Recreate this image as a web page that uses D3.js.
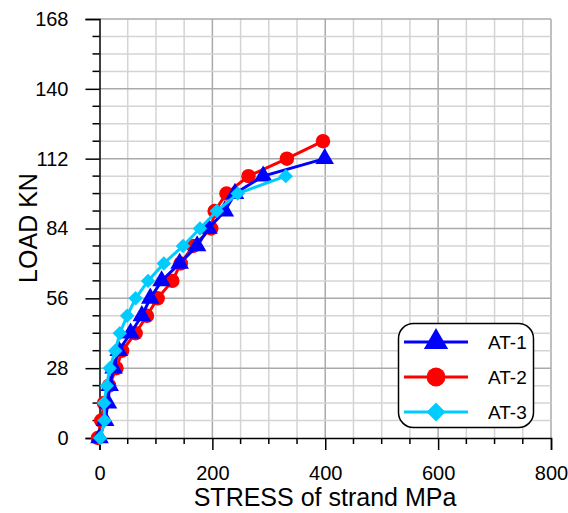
<!DOCTYPE html>
<html>
  <head>
    <meta charset="utf-8">
    <script src="https://cdn.jsdelivr.net/npm/d3@7"></script>
    <style>
      body { margin: 0; background: #fff; }
      text { font-family: Arial, "Liberation Sans", sans-serif; }
    </style>
  </head>
  <body>
    <script type="text/javascript">
      var w = 568;
      var h = 513;

      // dados
      var seriesNames = ["AT-1", "AT-2", "AT-3"];
      var loadAT1 = [0, 7, 14, 21, 28, 35, 42, 49, 56, 63, 70, 77, 84, 91, 98, 105, 112];
      var stressAT1 = [0, 10, 15, 18, 25, 34, 55, 75, 90, 110, 142, 173, 193, 222, 240, 290, 399];
      var loadAT2 = [0, 7, 14, 21, 28, 35, 42, 49, 56, 63, 70, 77, 84, 91, 98, 105, 112, 119];
      var stressAT2 = [-3, 3, 8, 17, 30, 40, 64, 84, 103, 129, 144, 166, 198, 204, 225, 264, 332, 396];
      var loadAT3 = [0, 7, 14, 21, 28, 35, 42, 49, 56, 63, 70, 77, 84, 91, 98, 105];
      var stressAT3 = [1, 9, 8, 13, 18, 28, 36, 49, 64, 86, 114, 148, 178, 208, 245, 330];
      var xTicks = [0, 200, 400, 600, 800];
      var yTicks = [0, 28, 56, 84, 112, 140, 168];

      var colors = ["#0000ff", "#ff0000", "#00ccff"];
      // losango = quadrado girado 45 graus
      var symbols = [d3.symbolTriangle, d3.symbolCircle, d3.symbolSquare];
      var symSizes = [150, 165, 105];
      var symRotate = [0, 0, 45];

      var series = [
        { name: seriesNames[0], x: stressAT1, y: loadAT1 },
        { name: seriesNames[1], x: stressAT2, y: loadAT2 },
        { name: seriesNames[2], x: stressAT3, y: loadAT3 }
      ];

      var pLeft = 99.5, pRight = 551, pTop = 19, pBottom = 438;

      var x = d3.scaleLinear().domain([0, 800]).range([pLeft, pRight]);
      var y = d3.scaleLinear().domain([0, 168]).range([pBottom, pTop]);

      var svg = d3.select("body")
                  .append("svg")
                    .attr("width", w)
                    .attr("height", h);

      // grade
      var grid = svg.append("g");
      grid.selectAll("line.gx")
          .data(d3.range(50, 801, 50))
          .enter()
          .append("line")
            .attr("x1", function(d){ return x(d); })
            .attr("x2", function(d){ return x(d); })
            .attr("y1", pTop)
            .attr("y2", pBottom)
            .attr("stroke", function(d){ return d % 200 == 0 ? "#aaaaaa" : "#d4d4d4"; })
            .attr("stroke-width", 1.5);
      grid.selectAll("line.gy")
          .data(d3.range(7, 169, 7))
          .enter()
          .append("line")
            .attr("x1", pLeft)
            .attr("x2", pRight)
            .attr("y1", function(d){ return y(d); })
            .attr("y2", function(d){ return y(d); })
            .attr("stroke", function(d){ return d % 28 == 0 ? "#aaaaaa" : "#d4d4d4"; })
            .attr("stroke-width", 1.5);

      // eixos
      var xAxis = d3.axisBottom(x).tickValues(xTicks).tickSize(12).tickPadding(16);
      var gx = svg.append("g")
                  .attr("transform", "translate(0," + pBottom + ")")
                  .call(xAxis);
      gx.selectAll("text").attr("font-size", 20).attr("fill", "#000").attr("font-family", "Arial, 'Liberation Sans', sans-serif");
      gx.select(".domain").attr("stroke-width", 1.5);
      gx.selectAll(".tick line").attr("stroke-width", 1.5);
      gx.selectAll("line.minor")
        .data(d3.range(50, 800, 50).filter(function(d){ return d % 200 != 0; }))
        .enter()
        .append("line")
          .attr("x1", function(d){ return x(d); })
          .attr("x2", function(d){ return x(d); })
          .attr("y1", 0)
          .attr("y2", 6)
          .attr("stroke", "#000")
          .attr("stroke-width", 1.5);

      var yAxis = d3.axisLeft(y).tickValues(yTicks).tickSize(14).tickPadding(17);
      var gy = svg.append("g")
                  .attr("transform", "translate(" + pLeft + ",0)")
                  .call(yAxis);
      gy.selectAll("text").attr("font-size", 20).attr("fill", "#000").attr("font-family", "Arial, 'Liberation Sans', sans-serif");
      gy.select(".domain").attr("stroke-width", 1.5);
      gy.selectAll(".tick line").attr("stroke-width", 1.5);
      gy.selectAll("line.minor")
        .data(d3.range(7, 168, 7).filter(function(d){ return d % 28 != 0; }))
        .enter()
        .append("line")
          .attr("x1", -7)
          .attr("x2", 0)
          .attr("y1", function(d){ return y(d); })
          .attr("y2", function(d){ return y(d); })
          .attr("stroke", "#000")
          .attr("stroke-width", 1.5);

      // rotulos dos eixos
      svg.append("text")
         .text("STRESS of strand MPa")
         .attr("x", 325)
         .attr("y", 506)
         .attr("text-anchor", "middle")
         .attr("font-size", 25);
      svg.append("text")
         .text("LOAD KN")
         .attr("transform", "translate(37,228) rotate(-90)")
         .attr("text-anchor", "middle")
         .attr("font-size", 25);

      // curvas (vermelha atras, ciano na frente)
      var order = [1, 0, 2];
      var line = d3.line()
                   .x(function(d){ return x(d[0]); })
                   .y(function(d){ return y(d[1]); });

      order.forEach(function(k){
        var s = series[k];
        var pts = s.x.map(function(v, i){ return [v, s.y[i]]; });
        var g = svg.append("g");
        g.append("path")
         .attr("d", line(pts))
         .attr("fill", "none")
         .attr("stroke", colors[k])
         .attr("stroke-width", 3);
        g.selectAll("path.m")
         .data(pts)
         .enter()
         .append("path")
           .attr("class", "m")
           .attr("d", d3.symbol().type(symbols[k]).size(symSizes[k]))
           .attr("transform", function(d){
             return "translate(" + x(d[0]) + "," + y(d[1]) + ") rotate(" + symRotate[k] + ")";
           })
           .attr("fill", colors[k]);
      });

      // legenda
      var leg = svg.append("g");
      leg.append("rect")
         .attr("x", 398.5)
         .attr("y", 323.5)
         .attr("width", 135)
         .attr("height", 104)
         .attr("rx", 15)
         .attr("fill", "#fff")
         .attr("stroke", "#000")
         .attr("stroke-width", 1.5);
      seriesNames.forEach(function(name, k){
        var ly = 342 + k * 35;
        leg.append("line")
           .attr("x1", 404).attr("x2", 468)
           .attr("y1", ly).attr("y2", ly)
           .attr("stroke", colors[k])
           .attr("stroke-width", 3);
        leg.append("path")
           .attr("d", d3.symbol().type(symbols[k]).size(symSizes[k] * 1.7))
           .attr("transform", "translate(436," + ly + ") rotate(" + symRotate[k] + ")")
           .attr("fill", colors[k]);
        leg.append("text")
           .text(name)
           .attr("x", 488)
           .attr("y", ly + 7)
           .attr("font-size", 19);
      });
    </script>
  </body>
</html>
